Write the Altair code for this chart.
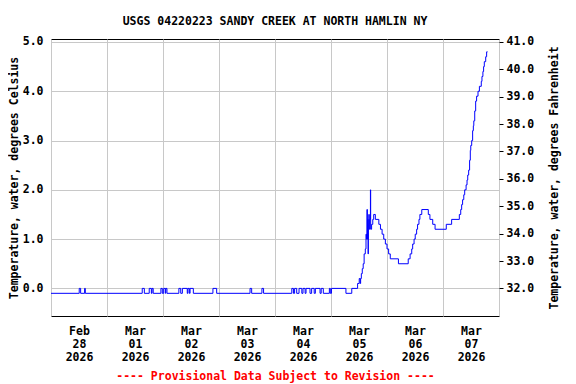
import json
import altair as alt
import pandas as pd

TITLE = "USGS 04220223 SANDY CREEK AT NORTH HAMLIN NY"
FOOTER = "---- Provisional Data Subject to Revision ----"
Y_LEFT_TITLE = "Temperature, water, degrees Celsius"
Y_RIGHT_TITLE = "Temperature, water, degrees Fahrenheit"

# hours since 2026-02-28 00:00 (start of each step) and water temperature, deg C
HOURS = [
    0.0, 12.1, 12.7, 14.4, 14.7, 39.1, 40.0, 42.1, 43.0, 43.3, 43.8,
    47.1, 47.7, 48.3, 49.0, 49.2, 49.7,
    54.8, 55.6, 56.3, 58.4, 58.7, 59.3, 59.6, 61.0,
    69.4, 71.0, 85.3, 86.0, 90.4, 91.1,
    103.2, 103.9, 104.4, 105.3,
    106.3, 107.5, 108.0, 108.9, 109.3, 111.0,
    111.7, 112.8, 113.3, 115.3, 115.8, 116.7,
    119.3, 119.7, 120.2, 126.4, 128.9,
    131.4, 132.1, 132.5, 132.7, 133.0, 133.4, 133.8, 134.2, 134.7, 135.0,
    135.2, 135.4, 135.6, 135.8, 135.9, 136.0, 136.2, 136.4, 136.6, 136.9,
    137.0, 137.4, 137.9, 138.3, 139.0, 140.5, 141.2, 141.9, 142.6, 143.3,
    144.0, 144.7, 145.4, 148.9, 153.1, 153.9, 154.6, 155.0, 155.6, 156.1,
    156.7, 157.1, 157.7, 158.1, 158.9, 161.7, 162.4, 163.6, 164.6, 169.4,
    171.7, 175.0, 175.6, 176.0, 176.4, 176.9, 177.3, 177.9, 178.3, 178.6,
    179.0, 179.4, 179.7, 179.9, 180.3, 180.7, 181.0, 181.2, 181.6, 182.0,
    182.4, 183.0, 183.6, 184.4, 184.7, 185.1, 185.4, 185.7, 186.3, 186.7,
    187.1,
]
TEMP_C = [
    -0.1, 0.0, -0.1, 0.0, -0.1, 0.0, -0.1, 0.0, -0.1, 0.0, -0.1,
    0.0, -0.1, 0.0, -0.1, 0.0, -0.1,
    0.0, -0.1, 0.0, -0.1, 0.0, -0.1, 0.0, -0.1,
    0.0, -0.1, 0.0, -0.1, 0.0, -0.1,
    0.0, -0.1, 0.0, -0.1,
    0.0, -0.1, 0.0, -0.1, 0.0, -0.1,
    0.0, -0.1, 0.0, -0.1, 0.0, -0.1,
    0.0, -0.1, 0.0, -0.1, 0.0,
    0.1, 0.2, 0.1, 0.2, 0.3, 0.4, 0.5, 0.7, 0.8, 1.1,
    1.0, 1.6, 1.0, 1.4, 0.7, 1.3, 1.5, 1.2, 1.4, 2.0,
    1.2, 1.3, 1.4, 1.5, 1.4, 1.3, 1.2, 1.1, 1.0, 0.9,
    0.8, 0.7, 0.6, 0.5, 0.6, 0.7, 0.8, 0.9, 1.0, 1.1,
    1.2, 1.3, 1.4, 1.5, 1.6, 1.5, 1.4, 1.3, 1.2, 1.3,
    1.4, 1.5, 1.6, 1.7, 1.8, 1.9, 2.0, 2.1, 2.2, 2.3,
    2.4, 2.6, 2.8, 2.9, 3.0, 3.2, 3.3, 3.4, 3.6, 3.8,
    3.9, 4.0, 4.1, 4.2, 4.3, 4.4, 4.5, 4.6, 4.7, 4.8,
    4.8,
]

DAY_GRID_HOURS = [0, 24, 48, 72, 96, 120, 144, 168, 192]
LABEL_HOURS = [12, 36, 60, 84, 108, 132, 156, 180]
X_TICK_LABELS = [
    ["Feb", "28", "2026"], ["Mar", "01", "2026"], ["Mar", "02", "2026"],
    ["Mar", "03", "2026"], ["Mar", "04", "2026"], ["Mar", "05", "2026"],
    ["Mar", "06", "2026"], ["Mar", "07", "2026"],
]
C_TICKS = [0, 1, 2, 3, 4, 5]
F_TICKS = [32, 33, 34, 35, 36, 37, 38, 39, 40, 41]
C_DOMAIN = [-0.56, 5.06]
F_DOMAIN = [c * 9 / 5 + 32 for c in C_DOMAIN]
X_DOMAIN = [0, 192]

FONT = "DejaVu Sans Mono"
FS = 11.5

df = pd.DataFrame({"hours": HOURS, "temp_c": TEMP_C})
grid_df = pd.DataFrame({"hours": DAY_GRID_HOURS})

x_scale = alt.Scale(domain=X_DOMAIN, nice=False, zero=False)
label_expr = f"{json.dumps(X_TICK_LABELS)}[round((datum.value - 12) / 24)]"

grid_layer = alt.Chart(grid_df).mark_rule(opacity=0).encode(
    x=alt.X("hours:Q", scale=x_scale,
            axis=alt.Axis(orient="top", values=DAY_GRID_HOURS, grid=True,
                          labels=False, ticks=False, domain=False, title=None))
)

line_layer = alt.Chart(df).mark_line(
    color="#0000ff", strokeWidth=1, interpolate="step-after"
).encode(
    x=alt.X("hours:Q", scale=x_scale,
            axis=alt.Axis(orient="bottom", values=LABEL_HOURS, labelExpr=label_expr,
                          grid=False, ticks=False, domain=False, labelFlush=False,
                          labelPadding=9, labelLineHeight=13,
                          title=FOOTER, titleColor="#ff0000", titlePadding=8)),
    y=alt.Y("temp_c:Q", scale=alt.Scale(domain=C_DOMAIN, nice=False, zero=False),
            axis=alt.Axis(orient="left", values=C_TICKS, format=".1f", grid=True,
                          ticks=False, domain=False, labelFlush=False, labelPadding=8,
                          title=Y_LEFT_TITLE, titlePadding=3)),
)

f_layer = alt.Chart(df).transform_calculate(
    temp_f="datum.temp_c * 9 / 5 + 32"
).mark_line(opacity=0, interpolate="step-after").encode(
    x=alt.X("hours:Q", scale=x_scale, axis=None),
    y=alt.Y("temp_f:Q", scale=alt.Scale(domain=F_DOMAIN, nice=False, zero=False),
            axis=alt.Axis(orient="right", values=F_TICKS, format=".1f", grid=False,
                          ticks=True, tickSize=4, tickColor="black", domain=False,
                          labelFlush=False, labelPadding=3,
                          title=Y_RIGHT_TITLE, titleAngle=270, titlePadding=26)),
)

chart = alt.layer(grid_layer, line_layer, f_layer).resolve_scale(
    y="independent"
).resolve_axis(
    x="independent", y="independent"
).properties(
    width=448,
    height=277,
    autosize=alt.AutoSizeParams(type="none"),
    padding={"left": 43, "top": 31, "right": 69, "bottom": 68},
    title=alt.TitleParams(TITLE, font=FONT, fontSize=FS, fontWeight="bold",
                          color="black", anchor="middle", frame="group",
                          baseline="bottom", offset=-3),
).configure_view(
    stroke="black", strokeWidth=1
).configure_axis(
    labelFont=FONT, titleFont=FONT, labelFontSize=FS, titleFontSize=FS,
    labelFontWeight="bold", titleFontWeight="bold",
    labelColor="black", titleColor="black",
    gridColor="#c8c8c8", gridWidth=1, gridOpacity=1,
)

chart.save("out.html", embed_options={"renderer": "svg", "actions": False})
